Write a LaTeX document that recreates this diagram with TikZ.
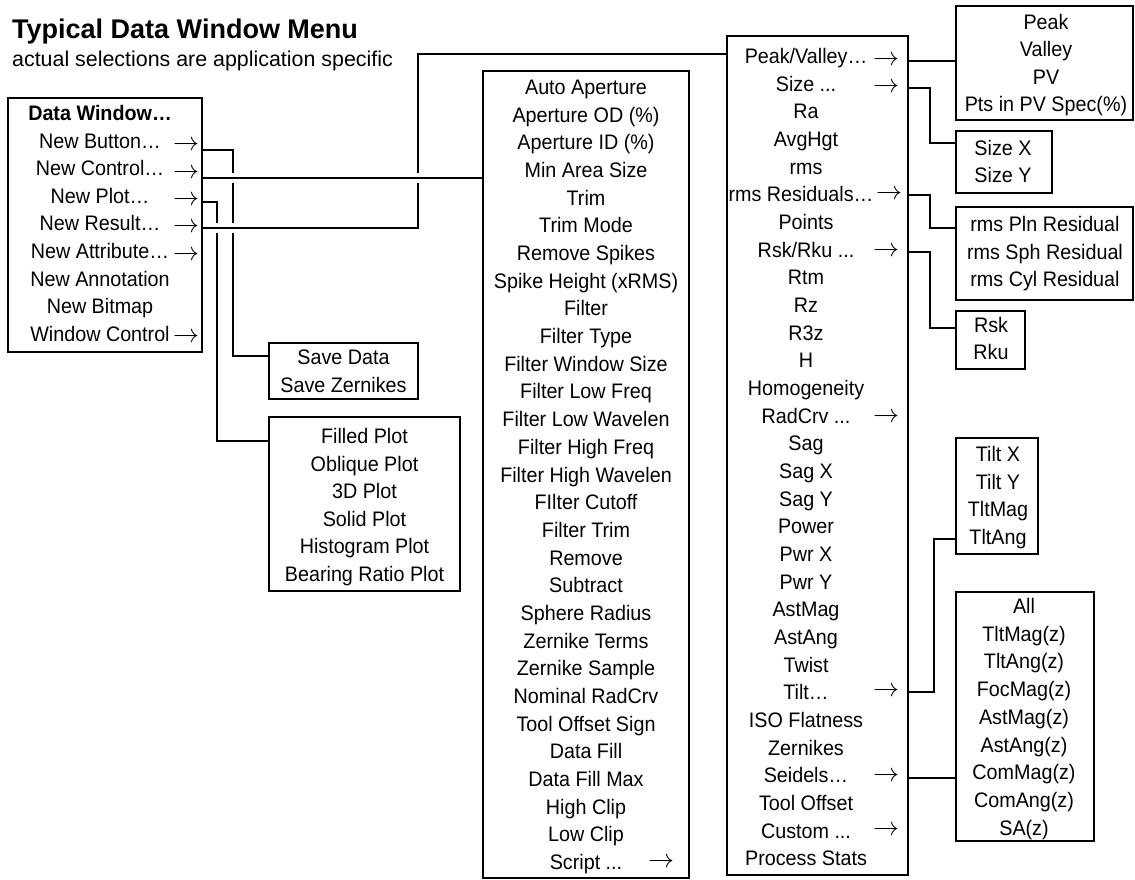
\documentclass[tikz,border=0pt]{standalone}
\usepackage{fontspec}
\setmainfont{Liberation Sans}
\newfontfamily\itemfont{Liberation Sans}[FakeStretch=0.94]
\newcommand\itf{\itemfont\fontsize{21}{25}\selectfont}
\newcommand\tdd{...}
\newcommand\rarr{\scalebox{1.25}{$\rightarrow$}}
\tikzset{
  box/.style={draw, line width=2.4pt, inner sep=0pt, outer sep=0pt},
  itm/.style={inner sep=0pt, text height=15pt, text depth=0pt, font=\itf},
  arr/.style={inner sep=0pt, font=\fontsize{21}{25}\selectfont},
  conn/.style={line width=1.2pt},
}
\begin{document}
\begin{tikzpicture}[x=1pt,y=-1pt]
\useasboundingbox (0,0) rectangle (1135,880);
\fill[white] (0,0) rectangle (1135,880);
% titles
\node[anchor=base west, inner sep=0pt, font=\fontsize{27}{30}\selectfont\bfseries] (title) at (12,38.3) {Typical Data Window Menu};
\node[anchor=base west, inner sep=0pt, font=\fontsize{21.4}{25}\selectfont] (sub) at (12,67) {actual selections are application specific};
% boxes
\node[box, minimum width=194pt, minimum height=254pt] (dw) at (105,225) {};
\node[box, minimum width=149pt, minimum height=56pt] (save) at (343.5,371) {};
\node[box, minimum width=191pt, minimum height=174pt] (plot) at (364.5,504) {};
\node[box, minimum width=206pt, minimum height=807pt] (mid) at (586,474.5) {};
\node[box, minimum width=181pt, minimum height=839pt] (rc) at (817.5,455.5) {};
\node[box, minimum width=177pt, minimum height=114pt] (peak) at (1044.5,63) {};
\node[box, minimum width=96pt, minimum height=62pt] (sizeb) at (1004,162) {};
\node[box, minimum width=177pt, minimum height=93pt] (rmsb) at (1044.5,253.5) {};
\node[box, minimum width=69pt, minimum height=58pt] (rskb) at (990.5,340) {};
\node[box, minimum width=82pt, minimum height=116pt] (tiltb) at (997,496) {};
\node[box, minimum width=138pt, minimum height=249pt] (seidb) at (1025,716.5) {};
% Data Window menu
\node[itm, font=\itf\bfseries] (d0) at (100,113) {Data Window…};
\foreach \t [count=\i from 1] in {New Button…,New Control…,New Plot…,New Result…,New Attribute…,New Annotation,New Bitmap,Window Control}
  \node[itm] (d\i) at (100,{113+27.6*\i}) {\t};
\foreach \n/\y in {b/146,c/174,p/201,r/228,t/256,w/338}
  \node[arr] (da\n) at (186,\y) {\rarr};
% save / plot
\node[itm] (s1) at (343.5,357) {Save Data};
\node[itm] (s2) at (343.5,385) {Save Zernikes};
\foreach \t [count=\i from 0] in {Filled Plot,Oblique Plot,3D Plot,Solid Plot,Histogram Plot,Bearing Ratio Plot}
  \node[itm] (p\i) at (364.5,{436+27.6*\i}) {\t};
% middle column
\foreach \t [count=\i from 0] in {Auto Aperture,Aperture OD (\%),Aperture ID (\%),Min Area Size,Trim,Trim Mode,Remove Spikes,Spike Height (xRMS),Filter,Filter Type,Filter Window Size,Filter Low Freq,Filter Low Wavelen,Filter High Freq,Filter High Wavelen,FIlter Cutoff,Filter Trim,Remove,Subtract,Sphere Radius,Zernike Terms,Zernike Sample,Nominal RadCrv,Tool Offset Sign,Data Fill,Data Fill Max,High Clip,Low Clip,Script \tdd}
  \node[itm] (m\i) at (586,{87+27.68*\i}) {\t};
\node[arr] (ma) at (661,863) {\rarr};
% right column
\foreach \t [count=\i from 0] in {Peak/Valley…,Size \tdd,Ra,AvgHgt,rms,rms Residuals…,Points,Rsk/Rku \tdd,Rtm,Rz,R3z,H,Homogeneity,RadCrv \tdd,Sag,Sag X,Sag Y,Power,Pwr X,Pwr Y,AstMag,AstAng,Twist,Tilt…,ISO Flatness,Zernikes,Seidels…,Tool Offset,Custom \tdd,Process Stats}
  \node[itm] (r\i) at ({806-5*(\i==5)},{56+27.67*\i}) {\t};
\foreach \n/\x/\y in {pv/886/61,sz/886/88,rr/889/195,rk/886/252,rd/886/418,tl/886/692,sd/886/777,cu/886/831}
  \node[arr] (ra\n) at (\x,\y) {\rarr};
% sub boxes on the right
\foreach \t [count=\i from 0] in {Peak,Valley,PV,Pts in PV Spec(\%)}
  \node[itm] (k\i) at (1046,{22+27.3*\i}) {\t};
\node[itm] (z1) at (1003,148) {Size X};
\node[itm] (z2) at (1003,175) {Size Y};
\foreach \t [count=\i from 0] in {rms Pln Residual,rms Sph Residual,rms Cyl Residual}
  \node[itm] (q\i) at (1045,{224+27.5*\i}) {\t};
\node[itm] (u1) at (991,325) {Rsk};
\node[itm] (u2) at (991,352) {Rku};
\foreach \t [count=\i from 0] in {Tilt X,Tilt Y,TltMag,TltAng}
  \node[itm] (t\i) at (998,{454+27.7*\i}) {\t};
\foreach \t [count=\i from 0] in {All,TltMag(z),TltAng(z),FocMag(z),AstMag(z),AstAng(z),ComMag(z),ComAng(z),SA(z)}
  \node[itm] (e\i) at (1024,{606+27.7*\i}) {\t};
% connectors from Data Window
\draw[conn] (dw.east |- 0,150) -- (233,150) -- (233,173);
\draw[conn] (233,183) -- (233,223);
\draw[conn] (233,233) -- (233,356) -- (save.west |- 0,356);
\draw[conn] (dw.east |- 0,202) -- (217,202) -- (217,223);
\draw[conn] (217,233) -- (217,441) -- (plot.west |- 0,441);
\draw[conn] (dw.east |- 0,178) -- (mid.west |- 0,178);
\draw[conn] (dw.east |- 0,228) -- (418,228) -- (418,183);
\draw[conn] (418,173) -- (418,54) -- (rc.west |- 0,54);
% connectors from right column
\draw[conn] (rc.east |- 0,61) -- (peak.west |- 0,61);
\draw[conn] (rc.east |- 0,88) -- (930,88) -- (930,143) -- (sizeb.west |- 0,143);
\draw[conn] (rc.east |- 0,195) -- (930,195) -- (930,228) -- (rmsb.west |- 0,228);
\draw[conn] (rc.east |- 0,252) -- (930,252) -- (930,328) -- (rskb.west |- 0,328);
\draw[conn] (rc.east |- 0,692) -- (934,692) -- (934,539) -- (tiltb.west |- 0,539);
\draw[conn] (rc.east |- 0,778) -- (seidb.west |- 0,778);
\end{tikzpicture}
\end{document}
